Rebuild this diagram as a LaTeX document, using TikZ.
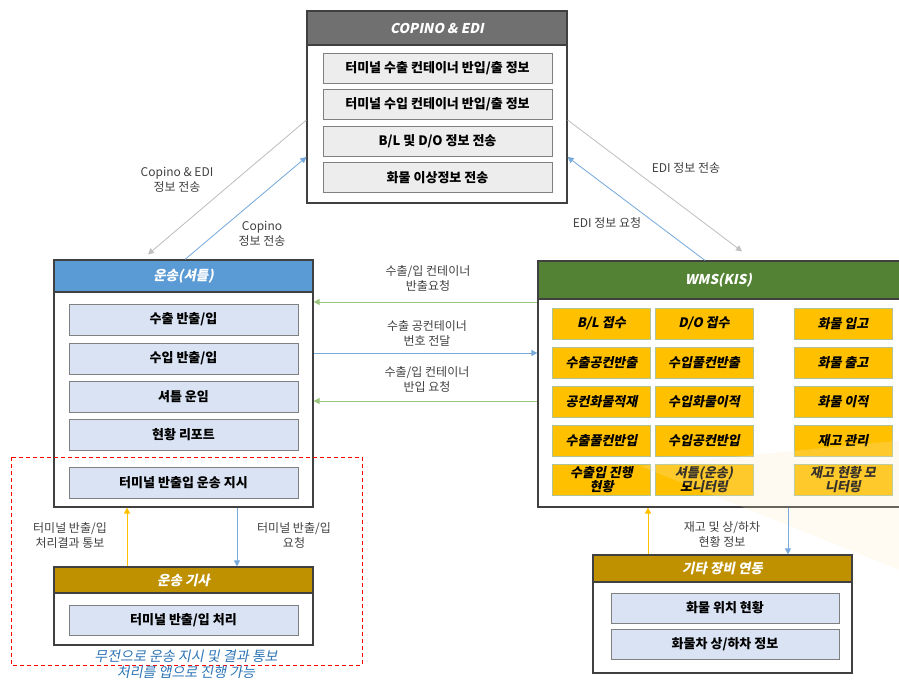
\documentclass[tikz,border=0pt]{standalone}
\usepackage{fontspec}
\setmainfont{Noto Sans CJK KR}
\newfontfamily\slantkr{Noto Sans CJK KR}[FakeSlant=0.2]
\usetikzlibrary{arrows.meta}
\definecolor{hdgray}{RGB}{112,112,112}
\definecolor{hdblue}{RGB}{91,155,213}
\definecolor{hdgreen}{RGB}{84,130,53}
\definecolor{hdgold}{RGB}{191,144,0}
\definecolor{itblue}{RGB}{218,227,243}
\definecolor{itgray}{RGB}{237,237,237}
\definecolor{wmsyel}{RGB}{255,192,0}
\definecolor{wmsedge}{RGB}{175,195,150}
\definecolor{arrgray}{RGB}{191,191,191}
\definecolor{arrblue}{RGB}{120,170,220}
\definecolor{arrgreen}{RGB}{112,173,71}
\definecolor{notebl}{RGB}{46,117,182}
\definecolor{cream}{RGB}{253,236,200}

\begin{document}
\begin{tikzpicture}[x=1pt,y=-1pt,
  panel/.style={draw=black!75,line width=1.2pt,fill=white,inner sep=0pt},
  head/.style={draw=black!75,line width=1.2pt,text=white,inner sep=0pt,anchor=north,
    font=\slantkr\fontsize{13.5}{16}\selectfont\bfseries},
  item/.style={draw=black!50,line width=0.8pt,fill=itblue,inner sep=0pt,
    minimum width=229,minimum height=31,font=\fontsize{13}{15}\selectfont\bfseries},
  gitem/.style={item,fill=itgray,minimum height=30},
  wbox/.style={draw=wmsedge,line width=0.8pt,fill=wmsyel,inner sep=0pt,align=center,
    minimum width=98,minimum height=31,font=\slantkr\fontsize{13}{13.5}\selectfont\bfseries},
  lbl/.style={align=center,text=black!75,inner sep=1pt,font=\fontsize{12}{15}\selectfont},
  tip/.style={-{Triangle[length=6pt,width=6pt]},line width=0.8pt},
  grayarr/.style={tip,draw=arrgray,fill=arrgray},
  bluearr/.style={tip,draw=arrblue,fill=arrblue},
  greenarr/.style={tip,draw=arrgreen!70,fill=arrgreen},
  yelarr/.style={tip,draw=wmsyel,fill=wmsyel}]
\useasboundingbox (0,0) rectangle (899,683);

% COPINO & EDI
\node[panel,minimum width=260,minimum height=192] (copino) at (437,107) {};
\node[head,fill=hdgray,minimum width=260,minimum height=34] (copinohd) at (copino.north) {COPINO \& EDI};
\node[gitem] (cp1) at (437.5,68) {터미널 수출 컨테이너 반입/출 정보};
\node[gitem] (cp2) at (437.5,104.5) {터미널 수입 컨테이너 반입/출 정보};
\node[gitem] (cp3) at (437.5,141) {B/L 및 D/O 정보 전송};
\node[gitem] (cp4) at (437.5,177.5) {화물 이상정보 전송};

% 운송(셔틀)
\node[panel,minimum width=259,minimum height=247] (shuttle) at (183.5,383.5) {};
\node[head,fill=hdblue,minimum width=259,minimum height=32] (shuttlehd) at (shuttle.north) {운송(셔틀)};
\node[item] (sh1) at (183.5,319.5) {수출 반출/입};
\node[item] (sh2) at (183.5,358.5) {수입 반출/입};
\node[item] (sh3) at (183.5,396.5) {셔틀 운임};
\node[item] (sh4) at (183.5,434.5) {현황 리포트};
\node[item] (sh5) at (183.5,482.5) {터미널 반출입 운송 지시};

% 운송 기사
\node[panel,minimum width=259,minimum height=78] (driver) at (183.5,606) {};
\node[head,fill=hdgold,minimum width=259,minimum height=26] (driverhd) at (driver.north) {운송 기사};
\node[item,minimum height=30] (dr1) at (183.5,620) {터미널 반출/입 처리};

% WMS(KIS)
\node[panel,minimum width=365,minimum height=246] (wms) at (720.5,384) {};
\node[head,fill=hdgreen,minimum width=365,minimum height=38] (wmshd) at (wms.north) {\hspace*{-4pt}WMS(KIS)};
\foreach \t [count=\i] in {B/L 접수,수출공컨반출,공컨화물적재,수출풀컨반입,수출입 진행\\현황}
  \node[wbox] (wl\i) at (601.5,284.5+39*\i) {\t};
\foreach \t [count=\i] in {D/O 접수,수입풀컨반출,수입화물이적,수입공컨반입,셔틀(운송)\\모니터링}
  \node[wbox] (wm\i) at (704,284.5+39*\i) {\t};
\foreach \t [count=\i] in {화물 입고,화물 출고,화물 이적,재고 관리,재고 현황 모\\니터링}
  \node[wbox] (wr\i) at (843,284.5+39*\i) {\t};

% 기타 장비 연동
\node[panel,minimum width=259,minimum height=118] (etc) at (722.5,614) {};
\node[head,fill=hdgold,minimum width=259,minimum height=27] (etchd) at (etc.north) {기타 장비 연동};
\node[item,minimum width=228,minimum height=30] (et1) at (725,608) {화물 위치 현황};
\node[item,minimum width=228,minimum height=30] (et2) at (725,644.5) {화물차 상/하차 정보};

\fill[cream,opacity=0.22] (640,466) -- (905,572) -- (905,440) -- cycle;

% connectors
\draw[grayarr] ([yshift=-13pt]copino.west) -- ([xshift=-35.5pt,yshift=5pt]shuttlehd.north);
\draw[bluearr] ([xshift=1.5pt]shuttlehd.north) -- ([yshift=-50pt]copino.west);
\draw[grayarr] ([yshift=-13pt]copino.east) -- ([xshift=21.5pt,yshift=9pt]wmshd.north);
\draw[bluearr] ([xshift=-15.5pt]wmshd.north) -- ([yshift=-50pt]copino.east);
\draw[greenarr] ([yshift=82pt]wms.west) -- ([yshift=82pt]wms.west -| shuttle.east);
\draw[bluearr] ([yshift=31pt]wms.west -| shuttle.east) -- ([yshift=31pt]wms.west);
\draw[greenarr] ([yshift=-17pt]wms.west) -- ([yshift=-17pt]wms.west -| shuttle.east);
\draw[yelarr] ([xshift=-56.5pt]driverhd.north) -- ([xshift=-56.5pt]shuttle.south);
\draw[bluearr] ([xshift=53.5pt]shuttle.south) -- ([xshift=53.5pt]driverhd.north);
\draw[yelarr] ([xshift=-74.5pt]etchd.north) -- ([xshift=-74.5pt]etchd.north |- wms.south);
\draw[bluearr] ([xshift=65.5pt]etchd.north |- wms.south) -- ([xshift=65.5pt]etchd.north);

% labels
\node[lbl] (l1) at (177,180) {Copino \& EDI\\정보 전송};
\node[lbl] (l2) at (262,233.5) {Copino\\정보 전송};
\node[lbl] (l3) at (686,168) {EDI 정보 전송};
\node[lbl] (l4) at (607,223) {EDI 정보 요청};
\node[lbl] (l5) at (428,278.5) {수출/입 컨테이너\\반출요청};
\node[lbl] (l6) at (427,333) {수출 공컨테이너\\번호 전달};
\node[lbl] (l7) at (427,379.5) {수출/입 컨테이너\\반입 요청};
\node[lbl] (l8) at (70,535.5) {터미널 반출/입\\처리결과 통보};
\node[lbl] (l9) at (294,535.5) {터미널 반출/입\\요청};
\node[lbl] (l10) at (722,534) {재고 및 상/하차\\현황 정보};

\draw[red,line width=0.8pt,dash pattern=on 4pt off 3pt] (11,457) rectangle (362,665);
\node[align=center,text=notebl,inner sep=0pt,font=\slantkr\fontsize{14}{15.5}\selectfont] (note) at (186,664.5)
  {무전으로 운송 지시 및 결과 통보\\처리를 앱으로 진행 가능};
\end{tikzpicture}
\end{document}
